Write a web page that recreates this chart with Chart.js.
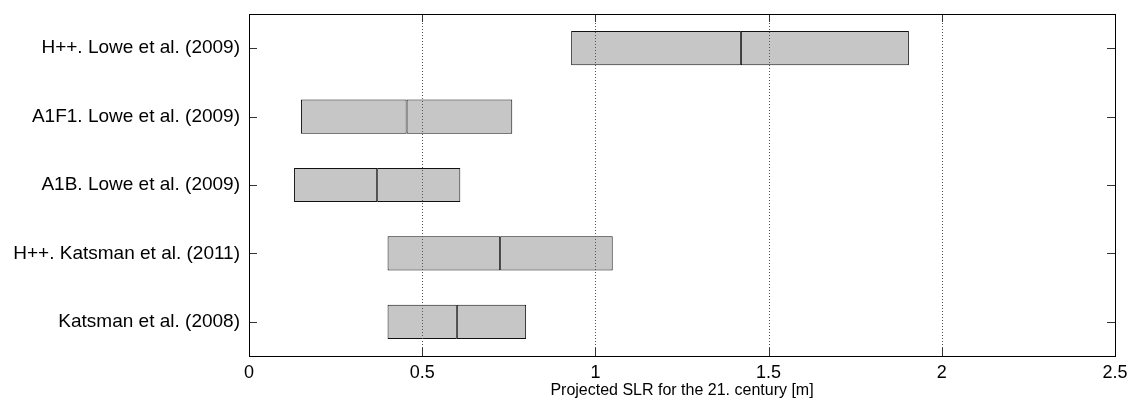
<!DOCTYPE html>
<html><head><meta charset="utf-8">
<script src="https://cdn.jsdelivr.net/npm/chart.js@4"></script>
<style>html,body{margin:0;padding:0;background:#fff}#wrap{width:1138px;height:406px;position:relative}</style>
</head><body><div id="wrap"><canvas id="c"></canvas></div>
<script>
const categories = ["H++. Lowe et al. (2009)", "A1F1. Lowe et al. (2009)", "A1B. Lowe et al. (2009)", "H++. Katsman et al. (2011)", "Katsman et al. (2008)"];
const lowValues = [0.93, 0.15, 0.13, 0.40, 0.40];
const medianValues = [1.42, 0.455, 0.37, 0.725, 0.60];
const highValues = [1.905, 0.76, 0.61, 1.05, 0.80];
const xTicks = [0, 0.5, 1, 1.5, 2, 2.5];
const xTitle = "Projected SLR for the 21. century [m]";

const FONT = "'Liberation Sans', Arial, Helvetica, sans-serif";

const frame = {
  id: 'frame',
  afterDatasetsDraw(chart) {
    const {ctx, chartArea: a, scales: {x, y}} = chart;
    ctx.save();
    // dotted grid
    ctx.strokeStyle = '#555';
    ctx.lineWidth = 1;
    ctx.setLineDash([1, 2]);
    xTicks.forEach(v => {
      if (v <= x.min || v >= x.max) return;
      const px = Math.round(x.getPixelForValue(v)) + 0.5;
      ctx.beginPath(); ctx.moveTo(px, a.top); ctx.lineTo(px, a.bottom); ctx.stroke();
    });
    ctx.setLineDash([]);
    // tick marks
    const tl = 8;
    ctx.strokeStyle = '#333';
    xTicks.forEach(v => {
      const px = Math.round(x.getPixelForValue(v)) + 0.5;
      ctx.beginPath();
      ctx.moveTo(px, a.bottom); ctx.lineTo(px, a.bottom - tl);
      ctx.moveTo(px, a.top); ctx.lineTo(px, a.top + tl);
      ctx.stroke();
    });
    categories.forEach((c, i) => {
      const py = Math.round(y.getPixelForValue(i)) + 0.5;
      ctx.beginPath();
      ctx.moveTo(a.left, py); ctx.lineTo(a.left + tl, py);
      ctx.moveTo(a.right, py); ctx.lineTo(a.right - tl, py);
      ctx.stroke();
    });
    // frame
    ctx.strokeStyle = '#000';
    ctx.strokeRect(Math.round(a.left) + 0.5, Math.round(a.top) + 0.5, Math.round(a.right - a.left), Math.round(a.bottom - a.top));
    ctx.restore();
  }
};

const boxStyle = {
  backgroundColor: '#c6c6c6',
  borderColor: '#111',
  borderWidth: 1,
  borderSkipped: false,
  grouped: false,
  barPercentage: 0.5,
  categoryPercentage: 1.0
};

new Chart(document.getElementById('c'), {
  type: 'bar',
  data: {
    labels: categories,
    datasets: [
      Object.assign({ label: 'lower', data: categories.map((_, i) => [lowValues[i], medianValues[i]]) }, boxStyle),
      Object.assign({ label: 'upper', data: categories.map((_, i) => [medianValues[i], highValues[i]]) }, boxStyle)
    ]
  },
  options: {
    indexAxis: 'y',
    responsive: true,
    maintainAspectRatio: false,
    animation: false,
    devicePixelRatio: 1,
    layout: { padding: { top: 14, right: 23, left: 0, bottom: 0 } },
    plugins: { legend: { display: false }, tooltip: { enabled: false } },
    scales: {
      x: {
        type: 'linear', min: 0, max: 2.5,
        afterBuildTicks: s => { s.ticks = xTicks.map(v => ({ value: v })); },
        ticks: { font: { family: FONT, size: 18 }, color: '#000', padding: 6, maxRotation: 0,
                 callback: v => String(v) },
        grid: { display: false, drawTicks: false },
        border: { display: false },
        title: { display: true, text: xTitle, color: '#000', font: { family: FONT, size: 16 }, padding: { top: 0, bottom: 6 } },
        afterFit: s => { s.height = 50; }
      },
      y: {
        type: 'category', offset: true,
        ticks: { font: { family: FONT, size: 19 }, color: '#000', padding: 9 },
        grid: { display: false, drawTicks: false },
        border: { display: false },
        afterFit: s => { s.width = 249; s.paddingTop = 0; s.paddingBottom = 0; }
      }
    }
  },
  plugins: [frame]
});
</script>
</body></html>
